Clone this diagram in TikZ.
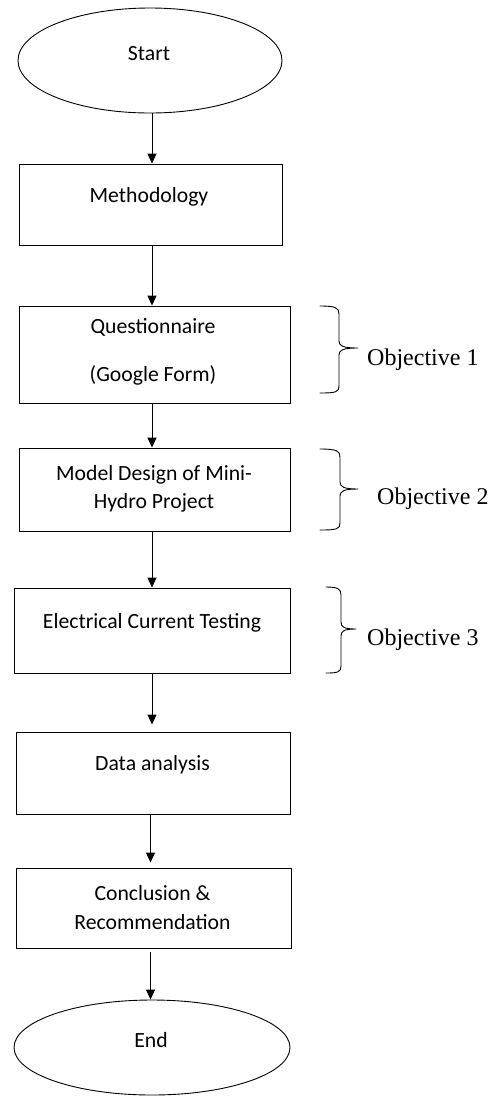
\documentclass[tikz,border=0pt]{standalone}
\usepackage{fontspec}
\setmainfont{Carlito}
\newfontfamily\timesfont{Liberation Serif}
\usetikzlibrary{shapes.geometric,arrows.meta}
\begin{document}
\begin{tikzpicture}[x=1pt,y=-1pt,
  box/.style={draw, line width=0.9pt, rectangle, inner sep=0pt},
  term/.style={draw, line width=0.9pt, ellipse, inner sep=0pt},
  txt/.style={font=\fontsize{21.7}{26}\selectfont, inner sep=0pt, anchor=base},
  obj/.style={font=\timesfont\fontsize{24}{28}\selectfont, inner sep=0pt, anchor=base west},
  arr/.style={-{Triangle[length=10pt,width=9pt]}, line width=0.9pt},
  brc/.style={line width=0.9pt, line join=round, line cap=round}]
\useasboundingbox (0,0) rectangle (492,1096);

% shapes
\node[term, minimum width=264pt, minimum height=105pt] (start) at (150,60.5) {};
\node[box, minimum width=263pt, minimum height=81pt] (meth) at (150.5,204.5) {};
\node[box, minimum width=271pt, minimum height=97pt] (quest) at (154.5,354.5) {};
\node[box, minimum width=271pt, minimum height=83pt] (model) at (154.5,489.5) {};
\node[box, minimum width=276pt, minimum height=85pt] (elec) at (152,630.5) {};
\node[box, minimum width=274pt, minimum height=82pt] (data) at (153,773) {};
\node[box, minimum width=275pt, minimum height=80pt] (concl) at (153.5,908) {};
\node[term, minimum width=276pt, minimum height=95pt] (end) at (152,1047.5) {};

% texts
\node[txt] (startT) at (149,60) {Start};
\node[txt] (methT) at (149,202) {Methodology};
\node[txt] (questT1) at (153,333) {Questionnaire};
\node[txt] (questT2) at (153,381) {(Google Form)};
\node[txt] (modelT1) at (154,480) {Model Design of Mini-};
\node[txt] (modelT2) at (154,508) {Hydro Project};
\node[txt] (elecT) at (152,628) {Electrical Current Testing};
\node[txt] (dataT) at (152.5,770) {Data analysis};
\node[txt] (conclT1) at (152.5,900) {Conclusion \&};
\node[txt] (conclT2) at (152.5,929) {Recommendation};
\node[txt] (endT) at (151,1047) {End};

% arrows
\coordinate (ax) at (152,0);
\coordinate (bx) at (150.5,0);
\draw[arr] (start.south -| ax) -- (meth.north -| ax);
\draw[arr] (meth.south -| ax) -- (quest.north -| ax);
\draw[arr] (quest.south -| ax) -- (model.north -| ax);
\draw[arr] (model.south -| ax) -- (elec.north -| ax);
\draw[arr, shorten >=7pt] (elec.south -| ax) -- (data.north -| ax);
\draw[arr, shorten >=5pt] (data.south -| bx) -- (concl.north -| bx);
\draw[arr, shorten <=4pt] (concl.south -| bx) -- (end.north -| bx);

% braces
\draw[brc] (320,306) .. controls (336,306) and (339,308) .. (339,314) -- (339,341)
  .. controls (339,346) and (343,348) .. (358,348)
  .. controls (343,348) and (339,350) .. (339,355) -- (339,386)
  .. controls (339,392) and (336,393) .. (320,393);
\draw[brc] (320,449) .. controls (337,449) and (340,451) .. (340,457) -- (340,482)
  .. controls (340,487) and (344,489) .. (358,489)
  .. controls (344,489) and (340,491) .. (340,496) -- (340,523)
  .. controls (340,529) and (337,530) .. (320,530);
\draw[brc] (326,587) .. controls (338,587) and (341,589) .. (341,595) -- (341,622)
  .. controls (341,627) and (344,629) .. (356,629)
  .. controls (344,629) and (341,631) .. (341,636) -- (341,666)
  .. controls (341,672) and (338,673) .. (326,673);

% objective labels
\node[obj] (o1) at (367,365) {Objective 1};
\node[obj] (o2) at (377,504) {Objective 2};
\node[obj] (o3) at (367,645) {Objective 3};
\end{tikzpicture}
\end{document}
